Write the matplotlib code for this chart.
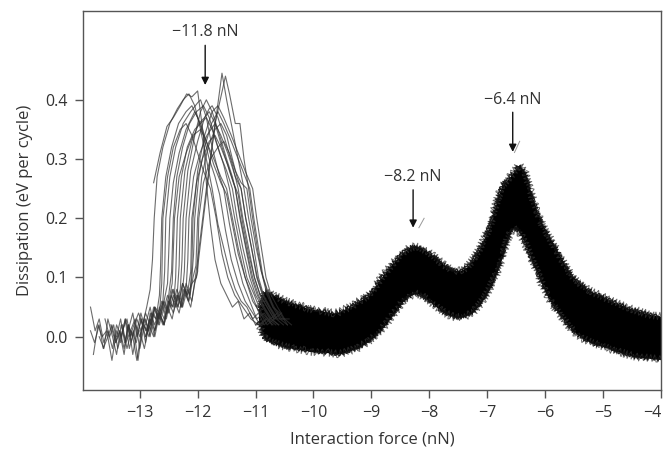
import matplotlib
matplotlib.use("Agg")
import matplotlib.pyplot as plt
import numpy as np

plt.rcParams['font.family'] = ['Open Sans', 'DejaVu Sans']
plt.rcParams['path.simplify'] = False

# ---- individual traces around the -11.8 nN peak: (force, dissipation) ----
trace_01 = [(-13.85,0.05),(-13.77,0.01),(-13.7,0.03),(-13.62,-0.01),(-13.55,0.01),(-13.47,-0.02),(-13.4,0.02),(-13.32,0.0),(-13.25,0.03),(-13.17,0.0),(-13.1,0.02),(-13.02,0.04),(-12.95,0.02),(-12.88,0.05),(-12.82,0.08),(-12.78,0.13),(-12.75,0.2),(-12.7,0.27),(-12.6,0.32),(-12.48,0.36),(-12.35,0.385),(-12.25,0.4),(-12.15,0.41),(-12.05,0.39),(-11.95,0.35),(-11.85,0.3),(-11.75,0.25),(-11.65,0.19),(-11.55,0.15),(-11.45,0.11),(-11.35,0.08),(-11.25,0.06),(-11.15,0.05),(-11.05,0.03),(-10.95,0.04),(-10.85,0.02),(-10.75,0.03)]
trace_02 = [(-12.76,0.26),(-12.65,0.31),(-12.53,0.355),(-12.42,0.37),(-12.3,0.39),(-12.19,0.41),(-12.1,0.405),(-12.0,0.415),(-11.9,0.34),(-11.85,0.26),(-11.78,0.19),(-11.7,0.13),(-11.6,0.09),(-11.5,0.07),(-11.4,0.05),(-11.3,0.06),(-11.2,0.03),(-11.1,0.04),(-11.0,0.02),(-10.9,0.03)]
trace_03 = [(-13.8,-0.03),(-13.72,0.02),(-13.65,0.0),(-13.57,0.01),(-13.48,-0.04),(-13.4,0.01),(-13.33,-0.01),(-13.25,0.03),(-13.18,-0.02),(-13.1,0.01),(-13.03,-0.04),(-12.95,0.02),(-12.87,0.01),(-12.8,0.04),(-12.72,0.03),(-12.66,0.07),(-12.64,0.12),(-12.62,0.2),(-12.55,0.27),(-12.45,0.32),(-12.33,0.36),(-12.2,0.38),(-12.1,0.39),(-12.0,0.37),(-11.9,0.34),(-11.8,0.3),(-11.7,0.27),(-11.62,0.24),(-11.52,0.18),(-11.42,0.13),(-11.3,0.09),(-11.18,0.06),(-11.05,0.04),(-10.92,0.02),(-10.8,0.03)]
trace_04 = [(-13.7,0.0),(-13.62,-0.02),(-13.55,0.03),(-13.47,0.0),(-13.4,-0.03),(-13.32,0.02),(-13.24,-0.01),(-13.16,0.01),(-13.08,0.03),(-13.0,-0.02),(-12.92,0.02),(-12.84,0.0),(-12.76,0.04),(-12.68,0.02),(-12.6,0.06),(-12.57,0.11),(-12.55,0.2),(-12.48,0.27),(-12.38,0.32),(-12.25,0.36),(-12.12,0.38),(-12.0,0.395),(-11.95,0.40),(-11.85,0.37),(-11.75,0.32),(-11.62,0.27),(-11.55,0.25),(-11.45,0.19),(-11.35,0.14),(-11.22,0.09),(-11.1,0.06),(-10.98,0.03),(-10.85,0.04),(-10.72,0.02)]
trace_05 = [(-13.5,0.02),(-13.42,-0.01),(-13.35,0.01),(-13.27,-0.03),(-13.2,0.02),(-13.12,0.0),(-13.05,-0.04),(-12.97,0.01),(-12.9,0.03),(-12.82,0.0),(-12.74,0.05),(-12.66,0.02),(-12.58,0.06),(-12.52,0.09),(-12.5,0.14),(-12.48,0.2),(-12.42,0.26),(-12.32,0.31),(-12.2,0.35),(-12.1,0.37),(-12.05,0.38),(-11.95,0.36),(-11.85,0.33),(-11.72,0.3),(-11.6,0.27),(-11.5,0.25),(-11.4,0.2),(-11.3,0.15),(-11.18,0.1),(-11.05,0.06),(-10.92,0.04),(-10.8,0.02),(-10.68,0.03)]
trace_06 = [(-13.2,0.01),(-13.12,0.04),(-13.05,0.0),(-12.97,0.03),(-12.9,-0.01),(-12.82,0.04),(-12.74,0.02),(-12.66,0.05),(-12.58,0.03),(-12.5,0.07),(-12.45,0.11),(-12.42,0.2),(-12.36,0.27),(-12.26,0.32),(-12.14,0.36),(-12.02,0.38),(-11.9,0.39),(-11.8,0.37),(-11.68,0.33),(-11.55,0.29),(-11.45,0.25),(-11.36,0.2),(-11.26,0.15),(-11.15,0.1),(-11.02,0.07),(-10.9,0.04),(-10.78,0.03),(-10.65,0.02)]
trace_07 = [(-12.9,0.02),(-12.82,0.05),(-12.74,0.01),(-12.66,0.04),(-12.58,0.02),(-12.5,0.06),(-12.42,0.05),(-12.38,0.1),(-12.35,0.2),(-12.28,0.27),(-12.18,0.32),(-12.05,0.35),(-11.95,0.36),(-11.85,0.37),(-11.75,0.35),(-11.62,0.31),(-11.5,0.28),(-11.4,0.25),(-11.32,0.2),(-11.22,0.15),(-11.1,0.1),(-11.0,0.07),(-10.88,0.05),(-10.75,0.03),(-10.62,0.04)]
trace_08 = [(-13.6,0.03),(-13.52,0.0),(-13.45,0.02),(-13.38,-0.02),(-13.3,0.01),(-13.22,0.03),(-13.15,-0.01),(-13.07,0.02),(-13.0,0.0),(-12.92,0.03),(-12.84,0.01),(-12.76,0.05),(-12.68,0.03),(-12.6,0.06),(-12.52,0.04),(-12.44,0.08),(-12.36,0.06),(-12.32,0.12),(-12.3,0.2),(-12.22,0.28),(-12.1,0.33),(-11.98,0.36),(-11.88,0.37),(-11.8,0.38),(-11.7,0.36),(-11.58,0.32),(-11.45,0.28),(-11.35,0.25),(-11.26,0.2),(-11.16,0.15),(-11.05,0.1),(-10.95,0.07),(-10.85,0.05),(-10.72,0.03),(-10.6,0.02)]
trace_09 = [(-12.6,0.04),(-12.52,0.07),(-12.44,0.05),(-12.36,0.08),(-12.28,0.06),(-12.23,0.11),(-12.2,0.2),(-12.12,0.28),(-12.0,0.33),(-11.88,0.37),(-11.8,0.385),(-11.75,0.39),(-11.65,0.37),(-11.52,0.33),(-11.4,0.29),(-11.3,0.25),(-11.22,0.2),(-11.12,0.15),(-11.02,0.1),(-10.92,0.07),(-10.8,0.05),(-10.68,0.03),(-10.55,0.04)]
trace_10 = [(-13.0,0.01),(-12.92,-0.02),(-12.84,0.02),(-12.76,0.0),(-12.68,0.04),(-12.6,0.02),(-12.52,0.05),(-12.44,0.03),(-12.36,0.07),(-12.28,0.05),(-12.2,0.08),(-12.17,0.13),(-12.15,0.2),(-12.07,0.27),(-11.96,0.31),(-11.84,0.34),(-11.7,0.36),(-11.6,0.34),(-11.48,0.31),(-11.35,0.27),(-11.25,0.25),(-11.17,0.2),(-11.07,0.15),(-10.97,0.1),(-10.87,0.07),(-10.76,0.05),(-10.64,0.03),(-10.52,0.02)]
trace_11 = [(-12.5,0.05),(-12.42,0.08),(-12.34,0.05),(-12.26,0.09),(-12.18,0.07),(-12.1,0.09),(-12.02,0.1),(-11.9,0.2),(-11.75,0.32),(-11.58,0.445),(-11.5,0.4),(-11.4,0.35),(-11.3,0.3),(-11.2,0.25),(-11.12,0.2),(-11.03,0.15),(-10.95,0.1),(-10.86,0.07),(-10.75,0.05),(-10.62,0.03),(-10.5,0.03)]
trace_12 = [(-12.9,0.0),(-12.82,0.03),(-12.74,0.01),(-12.66,0.04),(-12.58,0.02),(-12.5,0.06),(-12.42,0.04),(-12.34,0.07),(-12.26,0.05),(-12.18,0.08),(-12.1,0.06),(-12.04,0.1),(-12.0,0.13),(-11.85,0.25),(-11.7,0.36),(-11.52,0.44),(-11.45,0.41),(-11.35,0.36),(-11.27,0.36),(-11.2,0.3),(-11.12,0.25),(-11.05,0.2),(-10.97,0.15),(-10.9,0.11),(-10.8,0.07),(-10.7,0.05),(-10.58,0.03),(-10.45,0.02)]
trace_13 = [(-12.4,0.06),(-12.32,0.04),(-12.24,0.08),(-12.16,0.06),(-12.1,0.1),(-12.07,0.14),(-12.05,0.2),(-11.98,0.27),(-11.88,0.32),(-11.76,0.36),(-11.65,0.38),(-11.55,0.36),(-11.42,0.33),(-11.3,0.3),(-11.18,0.27),(-11.1,0.25),(-11.03,0.2),(-10.95,0.15),(-10.87,0.1),(-10.78,0.07),(-10.68,0.05),(-10.55,0.03),(-10.42,0.03)]
trace_14 = [(-12.3,0.05),(-12.22,0.08),(-12.15,0.06),(-12.08,0.1),(-12.03,0.12),(-12.0,0.2),(-11.93,0.27),(-11.82,0.32),(-11.7,0.35),(-11.6,0.36),(-11.5,0.34),(-11.4,0.3),(-11.32,0.27),(-11.25,0.25),(-11.17,0.2),(-11.07,0.15),(-10.98,0.1),(-10.88,0.07),(-10.77,0.05),(-10.65,0.03)]
trace_15 = [(-12.2,0.07),(-12.12,0.05),(-12.05,0.09),(-12.0,0.11),(-11.98,0.2),(-11.9,0.26),(-11.78,0.3),(-11.65,0.32),(-11.55,0.33),(-11.45,0.31),(-11.35,0.28),(-11.25,0.26),(-11.15,0.25),(-11.08,0.2),(-10.99,0.15),(-10.9,0.11),(-10.8,0.08),(-10.7,0.05),(-10.58,0.04),(-10.45,0.02)]
trace_16 = [(-13.3,0.02),(-13.22,-0.02),(-13.14,0.01),(-13.06,-0.01),(-12.98,0.03),(-12.9,0.0),(-12.82,0.02),(-12.74,0.05),(-12.66,0.03),(-12.58,0.06),(-12.5,0.04),(-12.42,0.07),(-12.34,0.05),(-12.26,0.09),(-12.18,0.07),(-12.12,0.11),(-12.1,0.2),(-12.02,0.26),(-11.92,0.3),(-11.8,0.33),(-11.7,0.34),(-11.6,0.32),(-11.48,0.29),(-11.38,0.26),(-11.3,0.24),(-11.22,0.19),(-11.12,0.14),(-11.02,0.1),(-10.92,0.07),(-10.8,0.05),(-10.68,0.03)]
trace_17 = [(-13.85,0.01),(-13.78,-0.01),(-13.7,0.02),(-13.63,-0.02),(-13.55,0.0),(-13.48,0.02),(-13.41,-0.01),(-13.34,0.01),(-13.27,-0.02),(-13.2,0.02),(-13.13,0.0),(-13.05,0.03),(-12.98,0.01),(-12.9,0.04),(-12.82,0.02),(-12.74,0.05),(-12.66,0.04),(-12.62,0.09),(-12.6,0.2),(-12.52,0.27),(-12.42,0.32),(-12.3,0.35),(-12.2,0.36),(-12.1,0.34),(-12.0,0.31),(-11.9,0.28),(-11.78,0.25),(-11.68,0.2),(-11.58,0.14),(-11.48,0.1),(-11.36,0.07),(-11.22,0.05),(-11.08,0.03),(-10.95,0.02),(-10.82,0.03)]
trace_18 = [(-13.4,0.0),(-13.33,0.03),(-13.26,-0.01),(-13.19,0.02),(-13.12,-0.03),(-13.05,0.01),(-12.98,0.04),(-12.9,0.01),(-12.82,0.03),(-12.74,0.0),(-12.66,0.04),(-12.58,0.02),(-12.5,0.06),(-12.44,0.09),(-12.4,0.2),(-12.32,0.27),(-12.2,0.31),(-12.08,0.34),(-11.95,0.35),(-11.85,0.33),(-11.72,0.29),(-11.6,0.26),(-11.5,0.24),(-11.4,0.19),(-11.3,0.14),(-11.18,0.1),(-11.06,0.07),(-10.94,0.04),(-10.82,0.03),(-10.7,0.02)]
trace_19 = [(-12.7,0.03),(-12.62,0.06),(-12.54,0.03),(-12.46,0.07),(-12.38,0.05),(-12.3,0.08),(-12.27,0.13),(-12.25,0.2),(-12.17,0.28),(-12.05,0.34),(-11.95,0.38),(-11.85,0.4),(-11.75,0.38),(-11.62,0.34),(-11.5,0.3),(-11.4,0.27),(-11.35,0.25),(-11.27,0.2),(-11.17,0.15),(-11.07,0.1),(-10.97,0.07),(-10.86,0.05),(-10.74,0.03),(-10.6,0.02)]
trace_20 = [(-12.35,0.07),(-12.27,0.05),(-12.2,0.09),(-12.13,0.07),(-12.1,0.12),(-12.08,0.2),(-12.0,0.28),(-11.88,0.34),(-11.75,0.38),(-11.65,0.39),(-11.55,0.37),(-11.42,0.34),(-11.3,0.31),(-11.18,0.28),(-11.05,0.25),(-10.98,0.2),(-10.9,0.15),(-10.82,0.1),(-10.73,0.07),(-10.62,0.05),(-10.5,0.03),(-10.38,0.02)]

left_traces = [trace_01, trace_02, trace_03, trace_04, trace_05, trace_06, trace_07,
               trace_08, trace_09, trace_10, trace_11, trace_12, trace_13, trace_14,
               trace_15, trace_16, trace_17, trace_18, trace_19, trace_20]

# ---- dense bundle of traces from -10.95 to -4 nN: upper / lower envelope ----
band_force = [-10.95,-10.85,-10.75,-10.65,-10.55,-10.45,-10.35,-10.25,-10.15,-10.05,
              -9.95,-9.85,-9.75,-9.65,-9.55,-9.45,-9.35,-9.25,-9.15,-9.05,
              -8.95,-8.85,-8.75,-8.65,-8.55,-8.45,-8.35,-8.25,-8.15,-8.05,
              -7.95,-7.85,-7.75,-7.65,-7.55,-7.45,-7.35,-7.25,-7.15,-7.05,
              -6.95,-6.85,-6.75,-6.65,-6.55,-6.45,-6.35,-6.25,-6.15,-6.05,
              -5.95,-5.85,-5.75,-5.65,-5.55,-5.45,-5.35,-5.25,-5.15,-5.05,
              -4.95,-4.85,-4.75,-4.65,-4.55,-4.45,-4.35,-4.25,-4.15,-4.05,-4.0]
band_upper = [0.045,0.075,0.074,0.068,0.064,0.059,0.056,0.054,0.05,0.047,
              0.045,0.044,0.041,0.04,0.042,0.047,0.051,0.058,0.064,0.07,
              0.082,0.098,0.11,0.122,0.133,0.143,0.15,0.153,0.15,0.145,
              0.138,0.13,0.122,0.115,0.112,0.112,0.118,0.13,0.146,0.166,
              0.19,0.225,0.255,0.266,0.277,0.29,0.278,0.245,0.214,0.19,
              0.172,0.155,0.138,0.12,0.104,0.094,0.086,0.079,0.074,0.07,
              0.065,0.06,0.056,0.052,0.048,0.045,0.042,0.039,0.037,0.035,0.034]
band_lower = [0.025,-0.002,-0.008,-0.012,-0.015,-0.018,-0.02,-0.021,-0.023,-0.025,
              -0.026,-0.026,-0.027,-0.029,-0.029,-0.026,-0.023,-0.02,-0.014,-0.008,
              0.0,0.01,0.021,0.034,0.047,0.06,0.068,0.073,0.071,0.064,
              0.056,0.048,0.041,0.036,0.033,0.033,0.036,0.041,0.052,0.065,
              0.083,0.104,0.132,0.165,0.184,0.178,0.158,0.133,0.111,0.087,
              0.066,0.051,0.038,0.025,0.013,0.004,-0.003,-0.008,-0.012,-0.015,
              -0.018,-0.022,-0.025,-0.028,-0.031,-0.034,-0.035,-0.036,-0.037,-0.038,-0.039]

x_ticks = [-13, -12, -11, -10, -9, -8, -7, -6, -5, -4]
y_ticks = [0.0, 0.1, 0.2, 0.3, 0.4]

peak_labels = ["\u221211.8 nN", "\u22128.2 nN", "\u22126.4 nN"]
peak_arrow_x = [-11.87, -8.28, -6.56]
peak_arrow_tip = [0.425, 0.184, 0.312]
peak_arrow_tail = [0.492, 0.248, 0.379]
peak_text_y = [0.514, 0.27, 0.40]

# faint grey slashes beside two arrow tips: (x0, y0, x1, y1)
slash_marks = [(-8.09, 0.20, -8.18, 0.184), (-6.44, 0.33, -6.53, 0.311)]

# ---------------------------------------------------------------------------
fig = plt.figure(figsize=(6.67, 4.5), dpi=100)
ax = fig.add_axes([0.1244, 0.1333, 0.8666, 0.8423])

spine_col = '#555555'
text_col = '#333333'

# dense bundle: solid core plus a thin jagged grey fringe (sketch line style)
ax.fill_between(band_force, band_lower, band_upper, color='black', lw=0, zorder=2)
for edge in (band_upper, band_lower):
    ln, = ax.plot(band_force, edge, color='0.2', lw=0.7, alpha=0.75, zorder=2)
    ln.set_sketch_params(scale=4.0, length=4.0, randomness=2.0)
    ln2, = ax.plot(band_force, edge, color='0.05', lw=1.0, alpha=0.9, zorder=2)
    ln2.set_sketch_params(scale=1.8, length=3.0, randomness=2.0)

for tr in left_traces:
    xs, ys = zip(*tr)
    ax.plot(xs, ys, color='0.2', lw=0.8, alpha=0.72, zorder=3)

for x0, y0, x1, y1 in slash_marks:
    ax.plot([x0, x1], [y0, y1], color='0.6', lw=0.7, zorder=4)

for lab, xa, yt, ytail, ytxt in zip(peak_labels, peak_arrow_x, peak_arrow_tip,
                                    peak_arrow_tail, peak_text_y):
    ax.annotate('', xy=(xa, yt), xytext=(xa, ytail),
                arrowprops=dict(arrowstyle='-|>', color='#111111', lw=1.0,
                                mutation_scale=11, shrinkA=0, shrinkB=0), zorder=5)
    ax.text(xa, ytxt, lab, ha='center', va='center', fontsize=11.5, color=text_col)

ax.set_xlim(-13.98, -4.0)
ax.set_ylim(-0.09, 0.55)
ax.set_xticks(x_ticks)
ax.set_xticklabels([f"\u2212{abs(v)}" for v in x_ticks])
ax.set_yticks(y_ticks)
ax.set_yticklabels([f"{v:.1f}" for v in y_ticks])
ax.get_xticklabels()[-1].set_horizontalalignment('right')

for s in ax.spines.values():
    s.set_color(spine_col)
    s.set_linewidth(1.0)
ax.tick_params(direction='out', length=6, width=1.0, color=spine_col,
               labelcolor=text_col, labelsize=11.5, pad=5)

ax.set_xlabel('Interaction force (nN)', fontsize=12, color=text_col, labelpad=7)
ax.set_ylabel('Dissipation (eV per cycle)', fontsize=12, color=text_col, labelpad=9)

fig.savefig('out.png', dpi=100)
